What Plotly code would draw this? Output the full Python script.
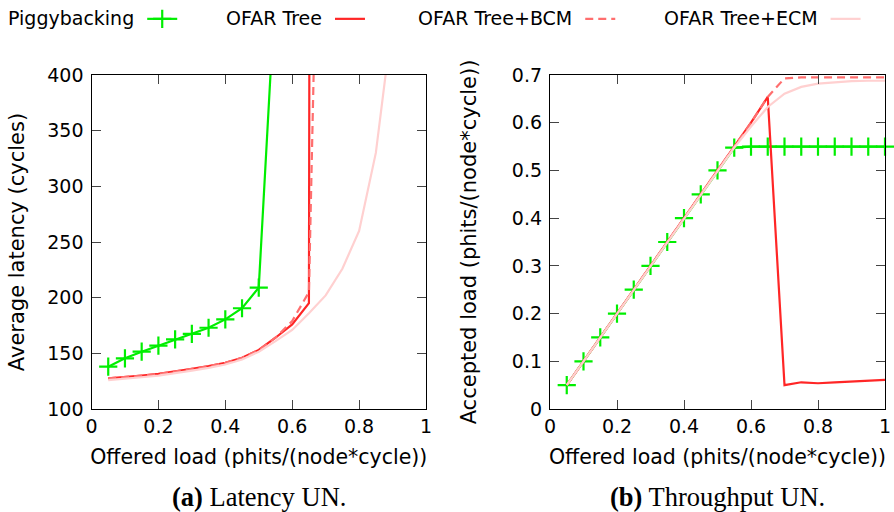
import plotly.graph_objects as go

# ---------------- data ----------------
offered = [0.05, 0.10, 0.15, 0.20, 0.25, 0.30, 0.35, 0.40, 0.45, 0.50,
           0.55, 0.60, 0.65, 0.70, 0.75, 0.80, 0.85, 0.90, 0.95, 1.00]

# (a) latency (cycles)
lat_piggy = [138, 145.5, 151.5, 157, 162.5, 167.5, 173, 180.5, 190.5, 209,
             482, 1200, 2500, 4000, 5500, 7000, 8500, 10000, 11500, 13000]
lat_tree = [127.5, 128.5, 130, 131.5, 133.5, 136, 138.5, 141.5, 146, 153,
            164, 176, 195, 9000, 12000, 14000, 15000, 16000, 17000, 18000]
lat_bcm = [127.5, 128.5, 130, 131.5, 133.5, 136, 138.5, 141.5, 146, 153,
           164, 179, 205, 900, 2500, 4000, 5000, 6000, 7000, 8000]
lat_ecm = [126, 127, 128.5, 130, 132, 134.5, 137, 140, 144.5, 151.5,
           161, 171, 186, 202, 226, 260, 330, 450, 900, 1500]

# (b) accepted load (phits/(node*cycle))
acc_piggy = [0.05, 0.10, 0.15, 0.20, 0.25, 0.30, 0.35, 0.40, 0.45, 0.50,
             0.548, 0.55, 0.55, 0.55, 0.55, 0.55, 0.55, 0.55, 0.55, 0.55]
acc_tree = [0.05, 0.10, 0.15, 0.20, 0.25, 0.30, 0.35, 0.40, 0.45, 0.50,
            0.55, 0.60, 0.654, 0.050, 0.056, 0.054, 0.056, 0.058, 0.059, 0.061]
acc_bcm = [0.05, 0.10, 0.15, 0.20, 0.25, 0.30, 0.35, 0.40, 0.45, 0.50,
           0.55, 0.60, 0.654, 0.693, 0.695, 0.695, 0.695, 0.695, 0.695, 0.695]
acc_ecm = [0.05, 0.10, 0.15, 0.20, 0.25, 0.30, 0.35, 0.40, 0.45, 0.50,
           0.548, 0.592, 0.633, 0.661, 0.675, 0.682, 0.685, 0.687, 0.688, 0.688]

names = ["Piggybacking", "OFAR Tree", "OFAR Tree+BCM", "OFAR Tree+ECM"]
colors = ["#00ee00", "#ff2626", "#ff6e6e", "#ffd0d0"]
dashes = ["solid", "solid", "8px,5px", "solid"]
lat_series = [lat_piggy, lat_tree, lat_bcm, lat_ecm]
acc_series = [acc_piggy, acc_tree, acc_bcm, acc_ecm]

x_ticks = [0, 0.2, 0.4, 0.6, 0.8, 1]
lat_ticks = [100, 150, 200, 250, 300, 350, 400]
acc_ticks = [0, 0.1, 0.2, 0.3, 0.4, 0.5, 0.6, 0.7]

W, H = 894, 512
SANS = "DejaVu Sans"
SERIF = "Liberation Serif"


def px(x):   # window x pixel -> paper fraction
    return x / W


def py(y):   # window y pixel (from top) -> paper fraction
    return (H - y) / H


fig = go.Figure()
legend_ids = ["legend", "legend2", "legend3", "legend4"]


def style(i):
    marker = dict(symbol="cross-thin", size=13, line=dict(width=2.2, color=colors[i])) if i == 0 else None
    mode = "lines+markers" if i == 0 else "lines"
    line = dict(color=colors[i], width=2.2, dash=dashes[i])
    return marker, mode, line


for i in range(4):
    marker, mode, line = style(i)
    fig.add_trace(go.Scatter(x=offered, y=lat_series[i], name=names[i], mode=mode,
                             marker=marker, line=line, xaxis="x", yaxis="y",
                             showlegend=False))
for i in range(4):
    marker, mode, line = style(i)
    fig.add_trace(go.Scatter(x=offered, y=acc_series[i], name=names[i], mode=mode,
                             marker=marker, line=line, xaxis="x2", yaxis="y2",
                             showlegend=False, cliponaxis=(i != 0)))
# legend keys (gnuplot style: label on the left of the sample)
for i in range(4):
    marker, mode, line = style(i)
    fig.add_trace(go.Scatter(x=[None], y=[None], name="", mode=mode, marker=marker,
                             line=line, xaxis="x", yaxis="y", legend=legend_ids[i],
                             showlegend=True, hoverinfo="skip"))

ydom = [py(409), py(75)]
axis_common = dict(showline=True, linecolor="black", linewidth=1.3, mirror="ticks",
                   ticks="inside", ticklen=9, tickwidth=1.3, tickcolor="#444",
                   showgrid=False, zeroline=False, automargin=False,
                   tickfont=dict(family=SANS, size=19, color="black"))

fig.update_layout(
    template="none",
    width=W, height=H, margin=dict(l=0, r=0, t=0, b=0, autoexpand=False),
    paper_bgcolor="white", plot_bgcolor="white",
    xaxis=dict(domain=[px(91.5), px(426)], range=[0, 1], tickvals=x_ticks, anchor="y",
               title=dict(text="Offered load (phits/(node*cycle))", standoff=13,
                          font=dict(family=SANS, size=20.5, color="black")),
               **axis_common),
    yaxis=dict(domain=ydom, range=[100, 400], tickvals=lat_ticks, anchor="x",
               ticklabelstandoff=3,
               title=dict(text="Average latency (cycles)", standoff=16,
                          font=dict(family=SANS, size=21, color="black")),
               **axis_common),
    xaxis2=dict(domain=[px(550), px(885)], range=[0, 1], tickvals=x_ticks, anchor="y2",
                title=dict(text="Offered load (phits/(node*cycle))", standoff=13,
                           font=dict(family=SANS, size=20.5, color="black")),
                **axis_common),
    yaxis2=dict(domain=ydom, range=[0, 0.7], tickvals=acc_ticks, anchor="x2",
                ticklabelstandoff=3,
                title=dict(text="Accepted load (phits/(node*cycle))", standoff=29,
                           font=dict(family=SANS, size=21, color="black")),
                **axis_common),
)

leg_text_x = [8, 226, 418, 664]
for lid, lx, nm in zip(legend_ids, leg_text_x, names):
    fig.update_layout({lid: dict(
        x=max(px(lx - 2), 0), y=1.0, xanchor="left", yanchor="top", orientation="h",
        bgcolor="rgba(0,0,0,0)", borderwidth=0,
        title=dict(text=nm, side="left", font=dict(family=SANS, size=19, color="black")),
        font=dict(family=SANS, size=19, color="black"),
        itemwidth=30)})

fig.add_annotation(x=px((91.5 + 426) / 2), y=py(497), xref="paper", yref="paper",
                   yanchor="middle", xanchor="center",
                   text="<b>(a)</b> Latency UN.", showarrow=False,
                   font=dict(family=SERIF, size=26.5, color="black"))
fig.add_annotation(x=px((550 + 885) / 2), y=py(497), xref="paper", yref="paper",
                   yanchor="middle", xanchor="center",
                   text="<b>(b)</b> Throughput UN.", showarrow=False,
                   font=dict(family=SERIF, size=26.5, color="black"))

# remove the browser's default 8px page margin so the 894x512 figure fills the window
fig.write_html("out.html", config={"displayModeBar": False},
               post_script="document.body.style.margin='0px';")
